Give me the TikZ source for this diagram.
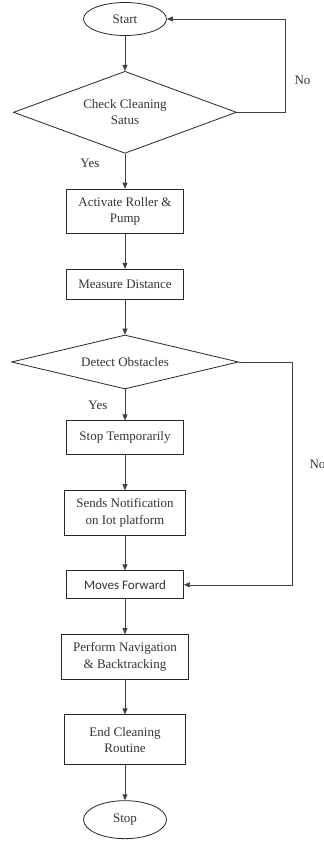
\documentclass[tikz,border=0pt]{standalone}
\usepackage{fontspec}
\setmainfont{Liberation Serif}
\newfontfamily\calibri{Carlito}
\usetikzlibrary{arrows.meta,positioning,shapes.geometric}

\begin{document}
\begin{tikzpicture}[>={Triangle[length=6pt,width=5pt]},node distance=35pt,
 font=\fontsize{13}{16.5}\selectfont,text=black!80,
 box/.style={draw=black!85,line width=0.8pt,align=center,inner xsep=12pt,inner ysep=8pt,minimum width=117pt,minimum height=30pt},
 term/.style={draw=black!85,line width=0.8pt,ellipse,minimum width=83pt,minimum height=33pt,inner sep=0pt},
 decide/.style={draw=black!85,line width=0.8pt,diamond,aspect=3,align=center,inner sep=0pt},
 flow/.style={->,draw=black!75,line width=0.6pt}]
\useasboundingbox (0,0) rectangle (324pt,-841pt);
\node[term] (start) at (125pt,-19pt) {Start};
\node[decide,below=of start,minimum width=223pt,minimum height=82pt] (check) {Check Cleaning\\Satus};
\node[box,below=of check] (activate) {Activate Roller \&\\Pump};
\node[box,below=of activate] (measure) {Measure Distance};
\node[decide,below=of measure,minimum width=227pt,minimum height=54pt] (detect) {Detect Obstacles};
\node[box,below=31pt of detect,minimum height=34pt] (halt) {Stop Temporarily};
\node[box,below=of halt] (notify) {Sends Notification\\on Iot platform};
\node[box,below=of notify,font=\calibri\fontsize{13}{16.5}\selectfont,minimum height=28pt] (moves) {Moves Forward};
\node[box,below=of moves] (navigate) {Perform Navigation\\\& Backtracking};
\node[box,below=of navigate,minimum width=121pt,minimum height=50pt] (finish) {End Cleaning\\Routine};
\node[term,below=of finish,minimum height=38pt] (stop) {Stop};
% main flow
\draw[flow] (start) -- (check);
\draw[flow] (check) -- node[left=22pt,pos=0.28] {Yes} (activate);
\draw[flow] (activate) -- (measure);
\draw[flow] (measure) -- (detect);
\draw[flow] (detect) -- node[left=14pt] {Yes} (halt);
\draw[flow] (halt) -- (notify);
\draw[flow] (notify) -- (moves);
\draw[flow] (moves) -- (navigate);
\draw[flow] (navigate) -- (finish);
\draw[flow] (finish) -- (stop);
% the two No branches
\draw[flow] (check.east) -- ++(48pt,0) |- node[right=6pt,pos=0.17] {No} (start.east);
\draw[flow] (detect.east) -- ++(53pt,0) |- node[right=14pt,pos=0.23] {No} (moves.east);
\end{tikzpicture}
\end{document}
